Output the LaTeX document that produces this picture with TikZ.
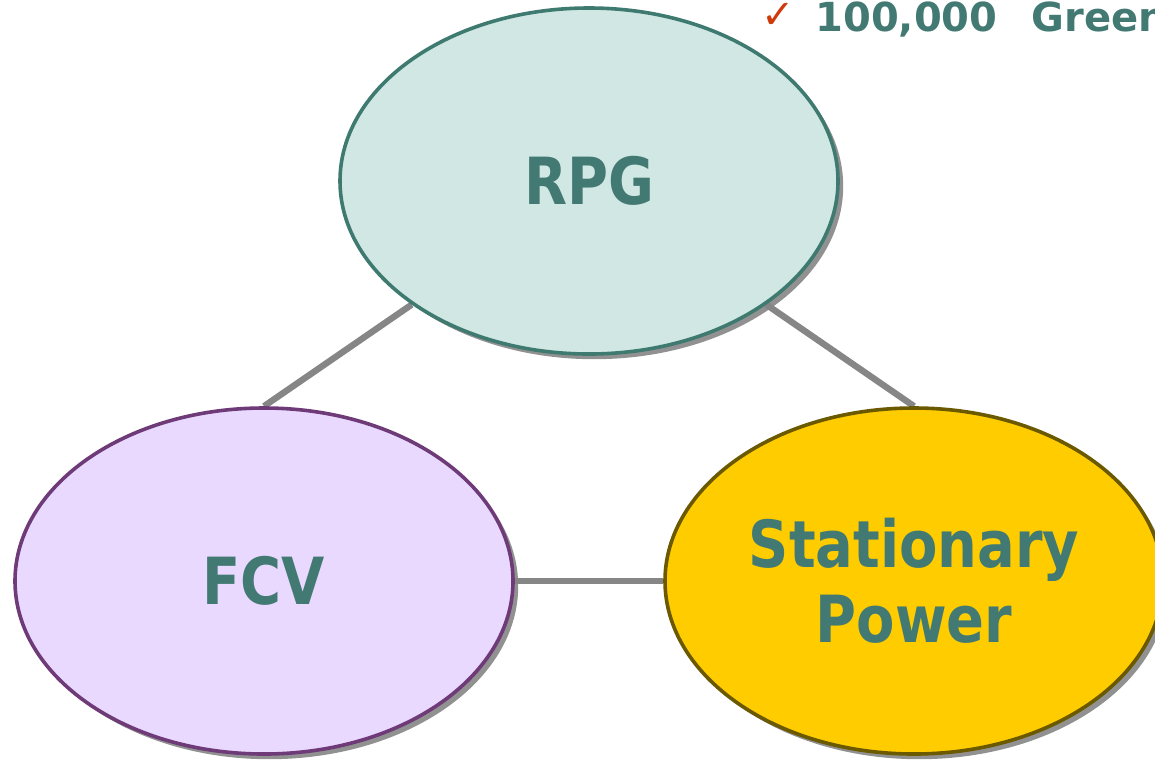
\documentclass[tikz,border=0pt]{standalone}
\usepackage{fontspec}
\usetikzlibrary{shapes.geometric,shadows,backgrounds}
\newfontfamily\lblfont[FakeStretch=0.86]{DejaVu Sans}
\newfontfamily\dvfont{DejaVu Sans}
\definecolor{tealtext}{HTML}{427A73}
\definecolor{rpgfill}{HTML}{D0E7E3}
\definecolor{rpgdraw}{HTML}{3F7A70}
\definecolor{fcvfill}{HTML}{EAD9FF}
\definecolor{fcvdraw}{HTML}{6E3B78}
\definecolor{statfill}{HTML}{FFCC00}
\definecolor{statdraw}{HTML}{6B5900}
\definecolor{linkgray}{HTML}{868686}
\definecolor{checkred}{HTML}{D03A0A}
\tikzset{
  bubble/.style={ellipse, inner sep=0pt, minimum width=249pt, minimum height=173pt,
    line width=1.8pt, text=tealtext, align=center,
    font=\lblfont\bfseries\fontsize{32.5}{37.5}\selectfont,
    drop shadow={shadow xshift=2.6pt, shadow yshift=-2.6pt, fill=black!48, opacity=0.9}},
  link/.style={draw=linkgray, line width=3.2pt},
  headline/.style={text=tealtext, inner sep=0pt, font=\dvfont\bfseries\fontsize{20}{24}\selectfont},
  tick/.style={text=checkred, inner sep=0pt, font=\dvfont\bfseries\fontsize{20}{24}\selectfont}
}
\begin{document}
\begin{tikzpicture}[x=0.5pt, y=-0.5pt]
\useasboundingbox (0,0) rectangle (1155,762);
\clip (0,0) rectangle (1155,762);
\node[bubble, fill=rpgfill, draw=rpgdraw] (rpg) at (589,181) {RPG};
\node[bubble, fill=fcvfill, draw=fcvdraw] (fcv) at (264,581) {FCV};
\node[bubble, fill=statfill, draw=statdraw] (stat) at (914,581) {Stationary\\Power};
\begin{scope}[on background layer]
  \draw[link] (fcv.north) -- (rpg.south west);
  \draw[link] (stat.north) -- (rpg.south east);
  \draw[link] (fcv.east) -- (stat.west);
\end{scope}
\node[tick] (check) at (778,16) {✓};
\node[headline, anchor=base west] (head) at (815,31) {100,000\hspace{0.85em}Green};
\end{tikzpicture}
\end{document}
